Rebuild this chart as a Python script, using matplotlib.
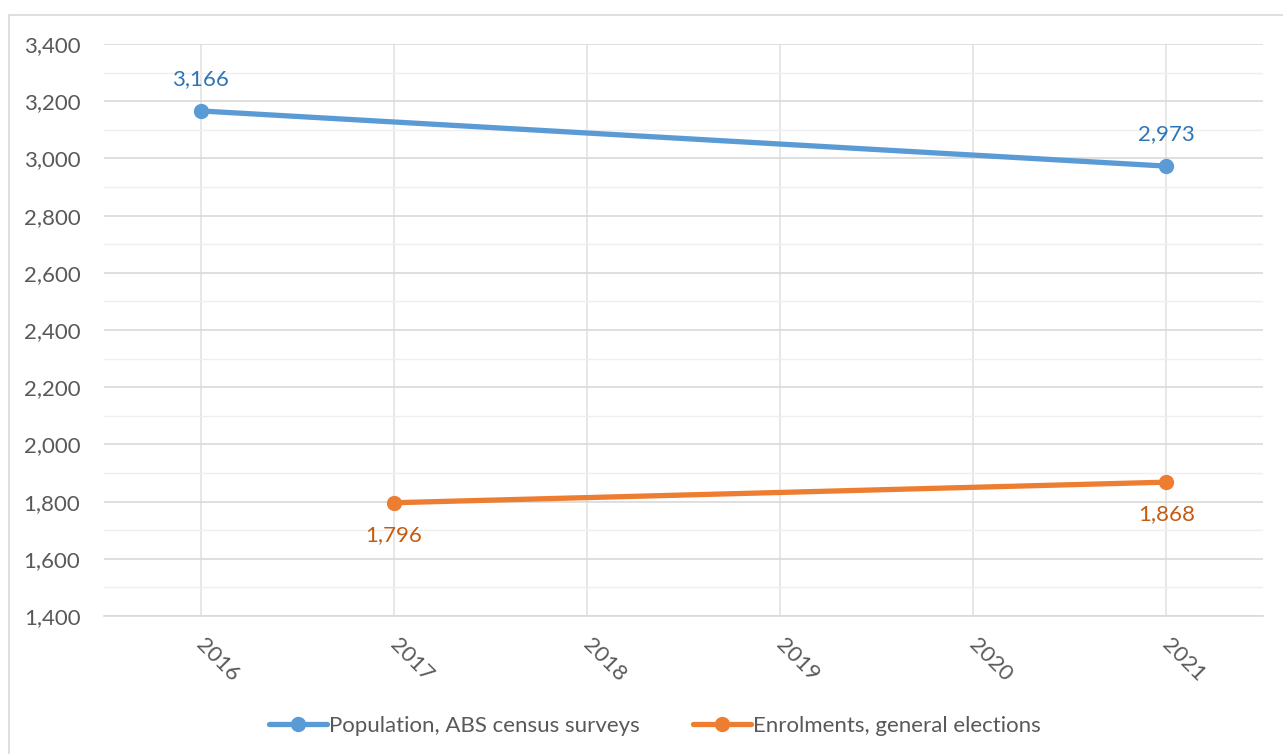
import matplotlib
matplotlib.use("Agg")
import matplotlib.pyplot as plt
from matplotlib.patches import Rectangle
from matplotlib.ticker import MultipleLocator, FuncFormatter
import matplotlib.transforms as mtransforms

years = [2016, 2017, 2018, 2019, 2020, 2021]
pop_years = [2016, 2021]
pop_values = [3166, 2973]
enr_years = [2017, 2021]
enr_values = [1796, 1868]
pop_label = "Population, ABS census surveys"
enr_label = "Enrolments, general elections"

plt.rcParams['font.family'] = ['Lato', 'DejaVu Sans']
text_gray = '#595959'
blue = '#5B9BD5'
orange = '#ED7D31'
blue_lbl = '#2E75B6'
orange_lbl = '#C55A11'
fs = 16

fig = plt.figure(figsize=(12.83, 7.54), dpi=100)
ax = fig.add_axes([104/1283, 1-616/754, (1263-104)/1283, (616-44)/754])

# outer chart border
fig.patches.append(Rectangle((9/1283, -0.01), 1.0, 1-15/754+0.01, transform=fig.transFigure,
                             fill=False, edgecolor='#D9D9D9', linewidth=1.2, zorder=0))

ax.plot(pop_years, pop_values, color=blue, lw=3.8, marker='o', ms=10, label=pop_label,
        solid_capstyle='round', zorder=3)
ax.plot(enr_years, enr_values, color=orange, lw=3.8, marker='o', ms=10, label=enr_label,
        solid_capstyle='round', zorder=3)

for x, v in zip(pop_years, pop_values):
    ax.annotate(f"{v:,}", (x, v), xytext=(0, 22), textcoords='offset pixels',
                ha='center', va='bottom', color=blue_lbl, fontsize=fs)
for x, v in zip(enr_years, enr_values):
    ax.annotate(f"{v:,}", (x, v), xytext=(0, -22), textcoords='offset pixels',
                ha='center', va='top', color=orange_lbl, fontsize=fs)

ax.set_xlim(2015.5, 2021.5)
ax.set_ylim(1400, 3400)
ax.yaxis.set_major_locator(MultipleLocator(200))
ax.yaxis.set_minor_locator(MultipleLocator(100))
ax.yaxis.set_major_formatter(FuncFormatter(lambda v, p: f"{int(v):,}"))
ax.set_xticks(years)
ax.set_xticklabels([str(y) for y in years])

ax.grid(axis='y', which='major', color='#D9D9D9', lw=1.2, zorder=0)
ax.grid(axis='y', which='minor', color='#EFEFEF', lw=1.0, zorder=0)
ax.grid(axis='x', which='major', color='#E3E3E3', lw=1.2, zorder=0)
for s in ['top', 'right', 'left']:
    ax.spines[s].set_visible(False)
ax.spines['bottom'].set_color('#D9D9D9')
ax.spines['bottom'].set_linewidth(1.2)
ax.tick_params(axis='both', which='both', length=0, colors=text_gray, labelsize=fs)
ax.tick_params(axis='y', pad=17)

offset = mtransforms.ScaledTranslation(-8/100, -14/100, fig.dpi_scale_trans)
for lbl in ax.get_xticklabels():
    lbl.set_rotation(-45)
    lbl.set_ha('left')
    lbl.set_va('top')
    lbl.set_transform(lbl.get_transform() + offset)

leg = fig.legend(loc='center', bbox_to_anchor=(655/1283, 1-726/754), ncol=2, frameon=False,
                 fontsize=fs, handlelength=2.6, handletextpad=0.1, columnspacing=2.4)
for t in leg.get_texts():
    t.set_color(text_gray)

fig.savefig('out.png', dpi=100, facecolor='white')
